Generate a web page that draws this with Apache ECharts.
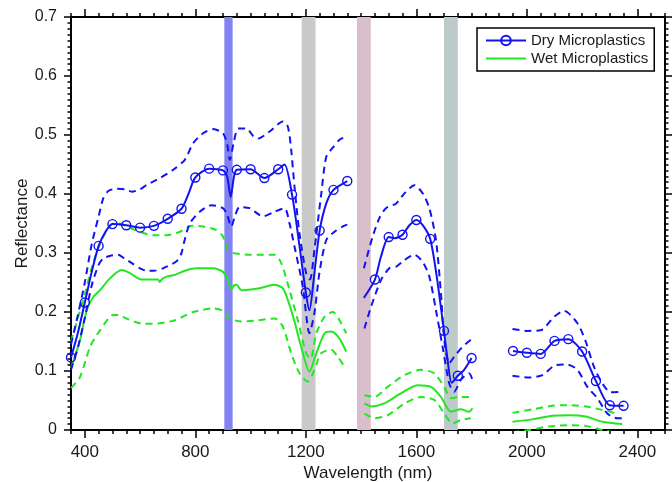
<!DOCTYPE html>
<html><head><meta charset="utf-8">
<script src="https://cdn.jsdelivr.net/npm/echarts@6/dist/echarts.min.js"></script>
<style>html,body{margin:0;padding:0;background:#fff}#c{width:672px;height:482px}</style>
</head><body><div id="c"></div><script>
// ---- data (wavelength nm, reflectance) ----
const xTickValues = [400, 800, 1200, 1600, 2000, 2400];
const bands = [[905, 935, '#8282f2'], [1185, 1235, '#c9c9c9'], [1385, 1435, '#d9bfcb'], [1700, 1750, '#bdcaca']];

const dryMean1 = [[350,0.123],[375,0.165],[400,0.216],[425,0.268],[450,0.312],[475,0.336],[500,0.349],[550,0.347],[600,0.343],[650,0.346],[700,0.358],[750,0.375],[775,0.400],[800,0.428],[850,0.443],[900,0.440],[915,0.430],[928,0.395],[940,0.430],[950,0.441],[1000,0.442],[1050,0.427],[1100,0.442],[1123,0.450],[1150,0.399],[1171,0.333],[1200,0.233],[1213,0.203],[1231,0.266],[1250,0.338],[1274,0.384],[1300,0.407],[1350,0.422]];
const dryMean2 = [[1410,0.224],[1450,0.255],[1472,0.294],[1500,0.327],[1522,0.325],[1550,0.331],[1575,0.347],[1600,0.356],[1625,0.346],[1650,0.324],[1672,0.266],[1700,0.168],[1713,0.119],[1728,0.080],[1750,0.092],[1773,0.102],[1800,0.122]];
const dryMean3 = [[1950,0.134],[2000,0.131],[2050,0.129],[2100,0.151],[2150,0.154],[2200,0.133],[2250,0.083],[2300,0.042],[2350,0.041]];

const dryUpper1 = [[350,0.145],[375,0.195],[400,0.250],[425,0.315],[450,0.362],[467,0.393],[485,0.405],[515,0.409],[545,0.408],[570,0.404],[600,0.408],[623,0.415],[672,0.427],[720,0.441],[762,0.458],[792,0.486],[828,0.503],[864,0.510],[900,0.503],[915,0.485],[925,0.458],[940,0.490],[955,0.511],[985,0.511],[1010,0.498],[1027,0.494],[1069,0.506],[1117,0.523],[1135,0.514],[1147,0.475],[1159,0.412],[1177,0.333],[1201,0.266],[1215,0.255],[1231,0.305],[1256,0.401],[1274,0.463],[1300,0.480],[1322,0.492],[1350,0.498]];
const dryUpper2 = [[1410,0.274],[1440,0.325],[1466,0.359],[1490,0.376],[1527,0.384],[1557,0.401],[1593,0.415],[1623,0.401],[1647,0.376],[1671,0.322],[1689,0.232],[1701,0.153],[1719,0.113],[1737,0.124],[1765,0.140],[1797,0.153]];
const dryUpper3 = [[1948,0.171],[2002,0.168],[2050,0.169],[2099,0.192],[2135,0.202],[2183,0.181],[2213,0.150],[2243,0.107],[2273,0.079],[2303,0.064],[2345,0.065]];

const dryLower1 = [[350,0.102],[375,0.140],[400,0.190],[425,0.245],[450,0.280],[467,0.291],[490,0.295],[521,0.297],[545,0.290],[563,0.285],[600,0.274],[623,0.270],[650,0.270],[683,0.274],[732,0.286],[750,0.300],[758,0.316],[780,0.350],[816,0.370],[858,0.381],[900,0.376],[915,0.365],[930,0.345],[945,0.365],[960,0.378],[997,0.376],[1045,0.362],[1087,0.370],[1123,0.376],[1141,0.350],[1159,0.311],[1189,0.243],[1213,0.164],[1231,0.198],[1249,0.266],[1274,0.322],[1304,0.336],[1334,0.345],[1350,0.348]];
const dryLower2 = [[1412,0.172],[1436,0.209],[1472,0.254],[1502,0.274],[1527,0.277],[1557,0.288],[1593,0.297],[1623,0.285],[1647,0.260],[1671,0.203],[1695,0.141],[1719,0.079],[1737,0.065],[1761,0.085],[1791,0.096],[1803,0.085]];
const dryLower3 = [[1948,0.092],[2008,0.089],[2056,0.093],[2104,0.110],[2146,0.111],[2183,0.102],[2219,0.073],[2255,0.054],[2291,0.028],[2327,0.020],[2350,0.020]];

const wetMean1 = [[350,0.105],[375,0.140],[383,0.153],[407,0.203],[430,0.225],[455,0.237],[491,0.257],[533,0.271],[563,0.266],[605,0.255],[640,0.255],[665,0.255],[671,0.251],[680,0.256],[696,0.260],[726,0.263],[762,0.270],[804,0.274],[864,0.274],[900,0.268],[918,0.254],[930,0.238],[940,0.245],[949,0.246],[967,0.237],[1027,0.240],[1087,0.246],[1117,0.240],[1135,0.220],[1159,0.184],[1183,0.141],[1213,0.099],[1238,0.130],[1268,0.164],[1292,0.167],[1322,0.155],[1346,0.133]];
const wetMean2 = [[1412,0.045],[1436,0.040],[1484,0.045],[1544,0.062],[1604,0.076],[1653,0.073],[1689,0.056],[1725,0.031],[1761,0.035],[1791,0.031],[1803,0.037]];
const wetMean3 = [[1948,0.014],[2020,0.018],[2092,0.024],[2152,0.025],[2213,0.023],[2273,0.014],[2345,0.010]];

const wetUpper1 = [[350,0.150],[375,0.190],[400,0.230],[425,0.275],[450,0.310],[475,0.335],[503,0.350],[530,0.350],[551,0.345],[599,0.336],[647,0.330],[696,0.330],[744,0.336],[786,0.346],[828,0.345],[876,0.339],[900,0.328],[918,0.305],[936,0.300],[1003,0.297],[1087,0.297],[1111,0.283],[1141,0.237],[1171,0.186],[1201,0.130],[1217,0.121],[1238,0.164],[1268,0.192],[1298,0.200],[1322,0.186],[1346,0.164]];
const wetUpper2 = [[1412,0.059],[1448,0.056],[1496,0.073],[1557,0.093],[1617,0.102],[1665,0.096],[1701,0.073],[1725,0.054],[1761,0.056],[1797,0.056]];
const wetUpper3 = [[1948,0.029],[2020,0.035],[2092,0.041],[2152,0.042],[2213,0.040],[2273,0.034],[2333,0.027]];

const wetLower1 = [[350,0.071],[383,0.090],[419,0.141],[455,0.169],[503,0.195],[521,0.195],[551,0.189],[611,0.180],[671,0.181],[726,0.186],[792,0.200],[864,0.206],[900,0.202],[924,0.189],[967,0.184],[1027,0.186],[1087,0.189],[1117,0.175],[1147,0.130],[1177,0.096],[1207,0.082],[1231,0.102],[1255,0.130],[1292,0.136],[1316,0.124],[1340,0.107]];
const wetLower2 = [[1412,0.028],[1448,0.020],[1496,0.025],[1557,0.045],[1617,0.056],[1665,0.051],[1701,0.028],[1731,0.011],[1761,0.017],[1797,0.020]];
const wetLower3 = [[1948,-0.004],[2007,0.000],[2079,0.006],[2152,0.008],[2213,0.007],[2273,0.000],[2333,-0.006]];

// ---- helpers ----
function join(...segs) {
  const out = [];
  segs.forEach((s, i) => {
    if (i > 0) out.push([(segs[i-1][segs[i-1].length-1][0] + s[0][0]) / 2, '-']);
    s.forEach(p => out.push(p));
  });
  return out;
}
const BLUE = '#1212f2', GREEN = '#22e622', FONT = 'Liberation Sans, Arial, Helvetica, sans-serif';
const TXT = '#1a1a1a';
const axLine = {show: true, lineStyle: {color: '#000', width: 2}};
const tickStyle = {color: '#000', width: 1.5};
const xBase = {type: 'value', min: 350, max: 2500, splitLine: {show: false}, nameMoveOverlap: false};
const yBase = {type: 'value', min: 0, max: 0.7, interval: 0.1, splitLine: {show: false}, nameMoveOverlap: false};

function lineSeries(name, data, color, dashed, extra) {
  return Object.assign({
    name, type: 'line', data, smooth: 0.25, symbol: 'none', z: 3,
    lineStyle: {color, width: 2, type: dashed ? [7, 5] : 'solid'},
    itemStyle: {color: 'rgba(0,0,0,0)'}, silent: true, animation: false
  }, extra || {});
}

const chart = echarts.init(document.getElementById('c'), null, {renderer: 'canvas'});
chart.setOption({
  animation: false,
  backgroundColor: '#fff',
  grid: {left: 71, right: 7, top: 17, bottom: 52, containLabel: false, outerBoundsMode: 'none'},
  xAxis: [
    Object.assign({}, xBase, {position: 'bottom', interval: 50, axisLine: axLine,
      axisTick: {show: true, length: 4, lineStyle: tickStyle},
      axisLabel: {formatter: v => xTickValues.includes(v) ? String(v) : '', fontSize: 17, color: TXT, margin: 14, fontFamily: FONT},
      name: 'Wavelength (nm)', nameLocation: 'middle', nameGap: 35,
      nameTextStyle: {fontSize: 17, color: TXT, fontFamily: FONT}}),
    Object.assign({}, xBase, {position: 'bottom', axisLine: {show: false},
      axisTick: {show: true, length: 8, customValues: xTickValues, lineStyle: tickStyle},
      axisLabel: {show: false}}),
    Object.assign({}, xBase, {position: 'top', interval: 50, axisLine: axLine,
      axisTick: {show: true, length: 4, lineStyle: tickStyle}, axisLabel: {show: false}}),
    Object.assign({}, xBase, {position: 'top', axisLine: {show: false},
      axisTick: {show: true, length: 8, customValues: xTickValues, lineStyle: tickStyle},
      axisLabel: {show: false}})
  ],
  yAxis: [
    Object.assign({}, yBase, {position: 'left', axisLine: axLine,
      axisTick: {show: true, length: 7, lineStyle: tickStyle},
      minorTick: {show: true, splitNumber: 10, length: 3.5, lineStyle: tickStyle},
      axisLabel: {formatter: v => v === 0 ? '0' : v.toFixed(1), fontSize: 16, color: TXT, margin: 14, fontFamily: FONT},
      name: 'Reflectance', nameLocation: 'middle', nameGap: 40, nameRotate: 90,
      nameTextStyle: {fontSize: 17, color: TXT, fontFamily: FONT}}),
    Object.assign({}, yBase, {position: 'right', axisLine: axLine,
      axisTick: {show: true, length: 7, lineStyle: tickStyle},
      minorTick: {show: true, splitNumber: 10, length: 3.5, lineStyle: tickStyle},
      axisLabel: {show: false}})
  ],
  legend: {
    data: ['Dry Microplastics', 'Wet Microplastics'], orient: 'vertical', left: 477, top: 28,
    backgroundColor: '#fff', borderColor: '#000', borderWidth: 1.5, borderRadius: 0,
    padding: [5, 6, 5, 8], itemGap: 3, itemWidth: 40, itemHeight: 12,
    textStyle: {fontSize: 15, color: TXT, fontFamily: FONT}
  },
  series: [
    {
      name: 'bands', type: 'line', data: [], z: 1, silent: true,
      markArea: {silent: true, z: 1,
        data: bands.map(b => [{xAxis: b[0], itemStyle: {color: b[2], opacity: 1}}, {xAxis: b[1]}])}
    },
    lineSeries('Wet Microplastics', join(wetMean1, wetMean2, wetMean3), GREEN, false),
    lineSeries('wetUpper', join(wetUpper1, wetUpper2, wetUpper3), GREEN, true),
    lineSeries('wetLower', join(wetLower1, wetLower2, wetLower3), GREEN, true),
    lineSeries('dryUpper', join(dryUpper1, dryUpper2, dryUpper3), BLUE, true),
    lineSeries('dryLower', join(dryLower1, dryLower2, dryLower3), BLUE, true),
    lineSeries('Dry Microplastics', join(dryMean1, dryMean2, dryMean3), BLUE, false, {
      z: 5, symbol: 'circle', showSymbol: true, showAllSymbol: true,
      symbolSize: v => (v[0] % 50 === 0 ? 9 : 0),
      itemStyle: {color: 'rgba(255,255,255,0)', borderColor: BLUE, borderWidth: 1.4}
    })
  ]
});
</script></body></html>
